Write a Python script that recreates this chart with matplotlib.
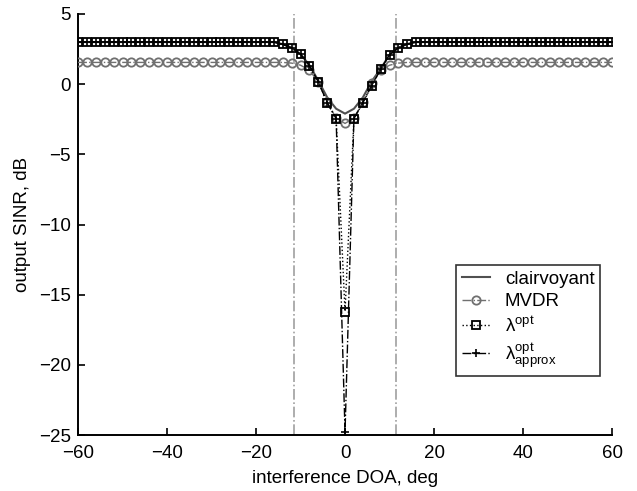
import matplotlib
matplotlib.use('Agg')
import matplotlib.pyplot as plt
import numpy as np

plt.rcParams['font.family'] = ['Liberation Sans', 'DejaVu Sans']
plt.rcParams['mathtext.fontset'] = 'custom'
plt.rcParams['mathtext.rm'] = 'Liberation Sans'
plt.rcParams['mathtext.it'] = 'Liberation Sans:italic'

# angulo da interferencia, de -60 a 60 graus em passos de 2
doa = np.arange(-60, 61, 2)

# SINR de saida (dB) para cada metodo
# (-60..-16 plano, -14..-2 transicao, 0, 2..14 transicao, 16..60 plano)
sinr_clairvoyant = [
    3.0, 3.0, 3.0, 3.0, 3.0, 3.0, 3.0, 3.0, 3.0, 3.0, 3.0, 3.0,
    3.0, 3.0, 3.0, 3.0, 3.0, 3.0, 3.0, 3.0, 3.0, 3.0, 3.0,
    2.85, 2.6, 2.15, 1.35, 0.25, -0.95, -1.75,
    -2.1,
    -1.75, -0.95, 0.2, 1.1, 2.1, 2.6, 2.85,
    3.0, 3.0, 3.0, 3.0, 3.0, 3.0, 3.0, 3.0, 3.0, 3.0, 3.0, 3.0,
    3.0, 3.0, 3.0, 3.0, 3.0, 3.0, 3.0, 3.0, 3.0, 3.0, 3.0,
]
sinr_mvdr = [
    1.55, 1.55, 1.55, 1.55, 1.55, 1.55, 1.55, 1.55, 1.55, 1.55, 1.55, 1.55,
    1.55, 1.55, 1.55, 1.55, 1.55, 1.55, 1.55, 1.55, 1.55, 1.55, 1.55,
    1.55, 1.5, 1.35, 1.0, 0.14, -1.3, -2.4,
    -2.8,
    -2.4, -1.3, 0.1, 1.0, 1.35, 1.5, 1.55,
    1.55, 1.55, 1.55, 1.55, 1.55, 1.55, 1.55, 1.55, 1.55, 1.55, 1.55, 1.55,
    1.55, 1.55, 1.55, 1.55, 1.55, 1.55, 1.55, 1.55, 1.55, 1.55, 1.55,
]
sinr_lopt = [
    3.0, 3.0, 3.0, 3.0, 3.0, 3.0, 3.0, 3.0, 3.0, 3.0, 3.0, 3.0,
    3.0, 3.0, 3.0, 3.0, 3.0, 3.0, 3.0, 3.0, 3.0, 3.0, 3.0,
    2.83, 2.59, 2.14, 1.31, 0.17, -1.33, -2.45,
    -16.2,
    -2.45, -1.33, -0.1, 1.05, 2.1, 2.6, 2.87,
    3.0, 3.0, 3.0, 3.0, 3.0, 3.0, 3.0, 3.0, 3.0, 3.0, 3.0, 3.0,
    3.0, 3.0, 3.0, 3.0, 3.0, 3.0, 3.0, 3.0, 3.0, 3.0, 3.0,
]
sinr_lapprox = [
    3.0, 3.0, 3.0, 3.0, 3.0, 3.0, 3.0, 3.0, 3.0, 3.0, 3.0, 3.0,
    3.0, 3.0, 3.0, 3.0, 3.0, 3.0, 3.0, 3.0, 3.0, 3.0, 3.0,
    2.83, 2.59, 2.14, 1.31, 0.17, -1.33, -2.45,
    -24.8,
    -2.45, -1.33, -0.1, 1.05, 2.1, 2.6, 2.87,
    3.0, 3.0, 3.0, 3.0, 3.0, 3.0, 3.0, 3.0, 3.0, 3.0, 3.0, 3.0,
    3.0, 3.0, 3.0, 3.0, 3.0, 3.0, 3.0, 3.0, 3.0, 3.0, 3.0,
]

# limites da regiao do lobulo principal
limites_lobulo = [-11.5, 11.5]

fig = plt.figure(figsize=(6.37, 4.91), dpi=100)
ax = fig.add_axes([0.1225, 0.114, 0.8383, 0.8575])

for xl in limites_lobulo:
    ax.axvline(xl, color='#a0a0a0', linestyle='-.', linewidth=1.2, zorder=1)

ax.plot(doa, sinr_clairvoyant, '-', color='#505050', linewidth=1.5, label='clairvoyant', zorder=2)
ax.plot(doa, sinr_mvdr, '-.', color='#707070', linewidth=1.0, marker='o', markersize=6,
        markerfacecolor='none', markeredgewidth=1.3, label='MVDR', zorder=3)
ax.plot(doa, sinr_lopt, ':', color='black', linewidth=1.0, marker='s', markersize=6,
        markerfacecolor='none', markeredgewidth=1.3, label='λ$^{\\mathrm{opt}}$', zorder=4)
ax.plot(doa, sinr_lapprox, '-.', color='black', linewidth=1.0, marker='+', markersize=6,
        markeredgewidth=1.2, label='λ$^{\\mathrm{opt}}_{\\mathrm{approx}}$', zorder=5)

ax.set_xlim(-60, 60)
ax.set_ylim(-25, 5)
ax.set_xticks([-60, -40, -20, 0, 20, 40, 60])
ax.set_yticks([-25, -20, -15, -10, -5, 0, 5])
ax.tick_params(direction='in', length=5, width=1.2, labelsize=13.5)
ax.tick_params(axis='x', pad=7)
ax.tick_params(axis='y', pad=5)
ax.spines['top'].set_visible(False)
ax.spines['right'].set_visible(False)
ax.spines['left'].set_linewidth(1.4)
ax.spines['bottom'].set_linewidth(1.4)

ax.set_xlabel('interference DOA, deg', fontsize=13.5, labelpad=6)
ax.set_ylabel('output SINR, dB', fontsize=13.5, labelpad=6)

leg = ax.legend(loc='upper left', bbox_to_anchor=(0.708, 0.404), borderaxespad=0,
                fontsize=13.5, fancybox=False, handlelength=1.5, labelspacing=0.3,
                borderpad=0.3)
leg.get_frame().set_edgecolor('black')
leg.get_frame().set_linewidth(1.2)

plt.savefig('out.png', dpi=100)
